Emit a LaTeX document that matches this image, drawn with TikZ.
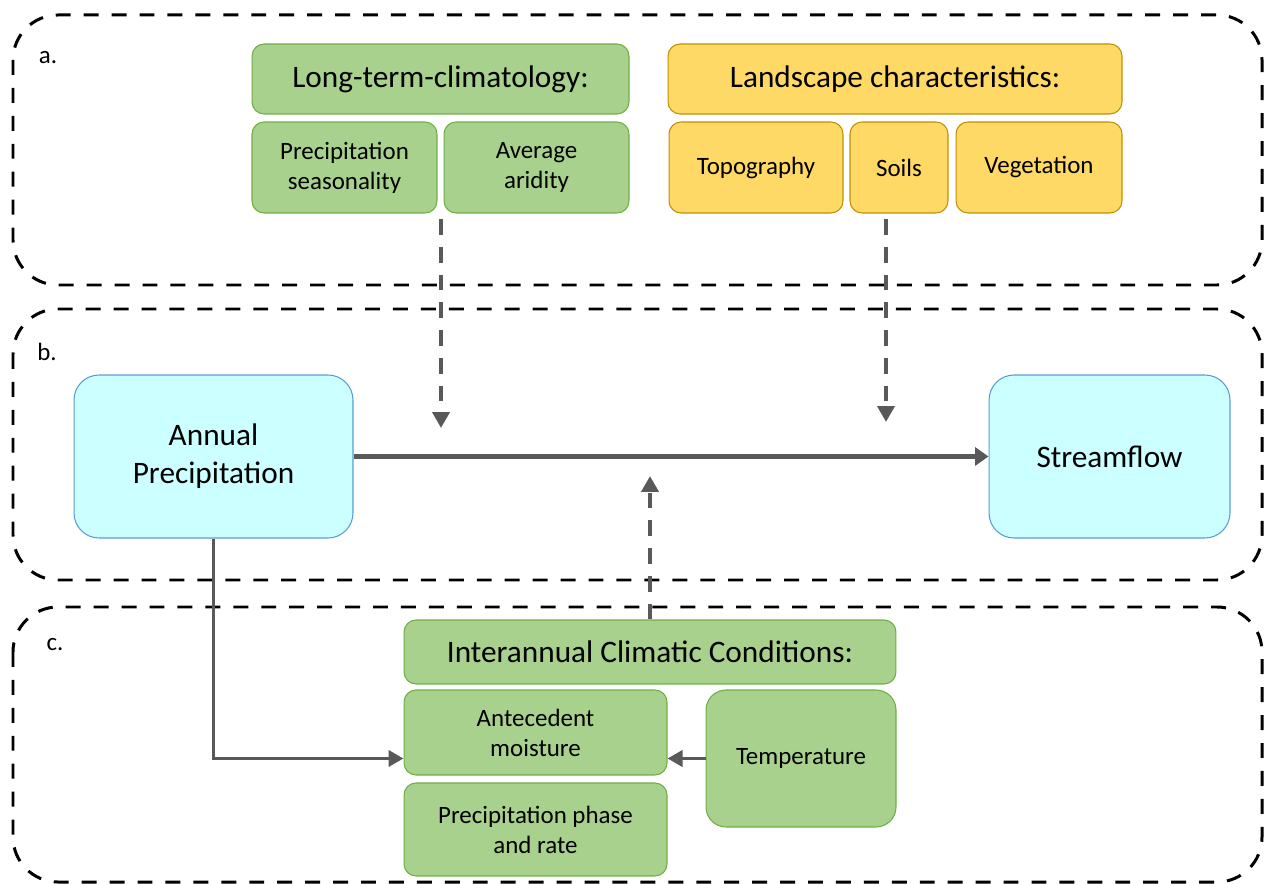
\documentclass[tikz,border=0pt]{standalone}
\usepackage{fontspec}
\setmainfont{Carlito}
\usetikzlibrary{arrows.meta}
\definecolor{boxgreen}{HTML}{A9D18E}
\definecolor{edgegreen}{HTML}{70AD47}
\definecolor{boxyellow}{HTML}{FFD966}
\definecolor{edgeyellow}{HTML}{BF9000}
\definecolor{boxcyan}{HTML}{CCFFFF}
\definecolor{edgeblue}{HTML}{5B9BD5}
\definecolor{arrowgrey}{HTML}{595959}
\newcommand\fsmall{\fontsize{14.2}{17}\selectfont}
\newcommand\fbig{\fontsize{17.8}{21.5}\selectfont}
\tikzset{
	panel/.style={line width=1.7pt, dash pattern=on 8.5pt off 7.4pt, rounded corners=0.9cm},
	tag/.style={font=\fsmall, inner sep=0pt},
	greenbox/.style={draw=edgegreen, fill=boxgreen, line width=0.6pt, rounded corners=0.24cm, align=center, inner sep=0pt, font=\fsmall},
	yellowbox/.style={draw=edgeyellow, fill=boxyellow, line width=0.6pt, rounded corners=0.24cm, align=center, inner sep=0pt, font=\fsmall},
	cyanbox/.style={draw=edgeblue, fill=boxcyan, line width=0.6pt, rounded corners=0.5cm, align=center, inner sep=0pt, font=\fbig},
	headbox/.style={font=\fbig},
	mainarrow/.style={draw=arrowgrey, line width=2.6pt, -{Triangle[length=0.27cm, width=0.36cm]}},
	linkarrow/.style={draw=arrowgrey, line width=2.2pt, -{Triangle[length=0.3cm, width=0.32cm]}},
	dasharrow/.style={draw=arrowgrey, line width=2.2pt, dash pattern=on 9pt off 6.8pt, -{Triangle[length=0.32cm, width=0.34cm]}}
}

\begin{document}
\begin{tikzpicture}[x=0.02cm, y=-0.02cm]
	%%%%% START %%%%%
	\useasboundingbox (0,0) rectangle (1266,884);
	
	\draw[panel] (13,15) rectangle (1262,285);
	\draw[panel] (13,309) rectangle (1262,580);
	\draw[panel] (13,607) rectangle (1262,882);
	
	\node[tag] (taga) at (48,58) {a.};
	\node[tag] (tagb) at (47,352) {b.};
	\node[tag] (tagc) at (55,645) {c.};
	
	% long-term climatology
	\node[greenbox, headbox, minimum width=7.54cm, minimum height=1.40cm] (climate) at (440.5,79) {Long-term-climatology:};
	\node[greenbox, minimum width=3.70cm, minimum height=1.82cm] (season) at (344.5,167.5) {Precipitation\\seasonality};
	\node[greenbox, minimum width=3.70cm, minimum height=1.82cm] (aridity) at (536.5,167.5) {Average\\aridity};
	
	% landscape
	\node[yellowbox, headbox, minimum width=9.08cm, minimum height=1.40cm] (landscape) at (895,79) {Landscape characteristics:};
	\node[yellowbox, minimum width=3.48cm, minimum height=1.82cm] (topo) at (756,167.5) {Topography};
	\node[yellowbox, minimum width=1.96cm, minimum height=1.82cm] (soils) at (899,167.5) {Soils};
	\node[yellowbox, minimum width=3.32cm, minimum height=1.82cm] (vegetation) at (1039,167.5) {Vegetation};
	
	% precipitation and streamflow
	\node[cyanbox, minimum width=5.58cm, minimum height=3.26cm] (annual) at (213.5,456.5) {Annual\\Precipitation};
	\node[cyanbox, minimum width=4.82cm, minimum height=3.26cm] (flow) at (1109.5,456.5) {Streamflow};
	
	% interannual conditions
	\node[greenbox, headbox, minimum width=9.84cm, minimum height=1.28cm] (interannual) at (650,652) {Interannual Climatic Conditions:};
	\node[greenbox, minimum width=5.26cm, minimum height=1.70cm] (moisture) at (535.5,732.5) {Antecedent\\moisture};
	\node[greenbox, minimum width=5.26cm, minimum height=1.86cm] (phase) at (535.5,829.5) {Precipitation phase\\and rate};
	\node[greenbox, rounded corners=0.4cm, minimum width=3.80cm, minimum height=2.74cm] (temp) at (801,758.5) {Temperature};
	
	\coordinate (climtop) at (441,219);
	\coordinate (climtip) at (441,428);
	\coordinate (landtop) at (886,219);
	\coordinate (landtip) at (886,422);
	\coordinate (intertip) at (650,476);
	
	\draw[mainarrow] (annual.east) -- (flow.west);
	\draw[dasharrow] (climtop) -- (climtip);
	\draw[dasharrow] (landtop) -- (landtip);
	\draw[dasharrow] (interannual.north) -- (intertip);
	\draw[linkarrow] (annual.south) |- (moisture.west |- temp.west);
	\draw[linkarrow] (temp.west) -- (moisture.east |- temp.west);
	
	%%%%% END %%%%%
\end{tikzpicture}
\end{document}
